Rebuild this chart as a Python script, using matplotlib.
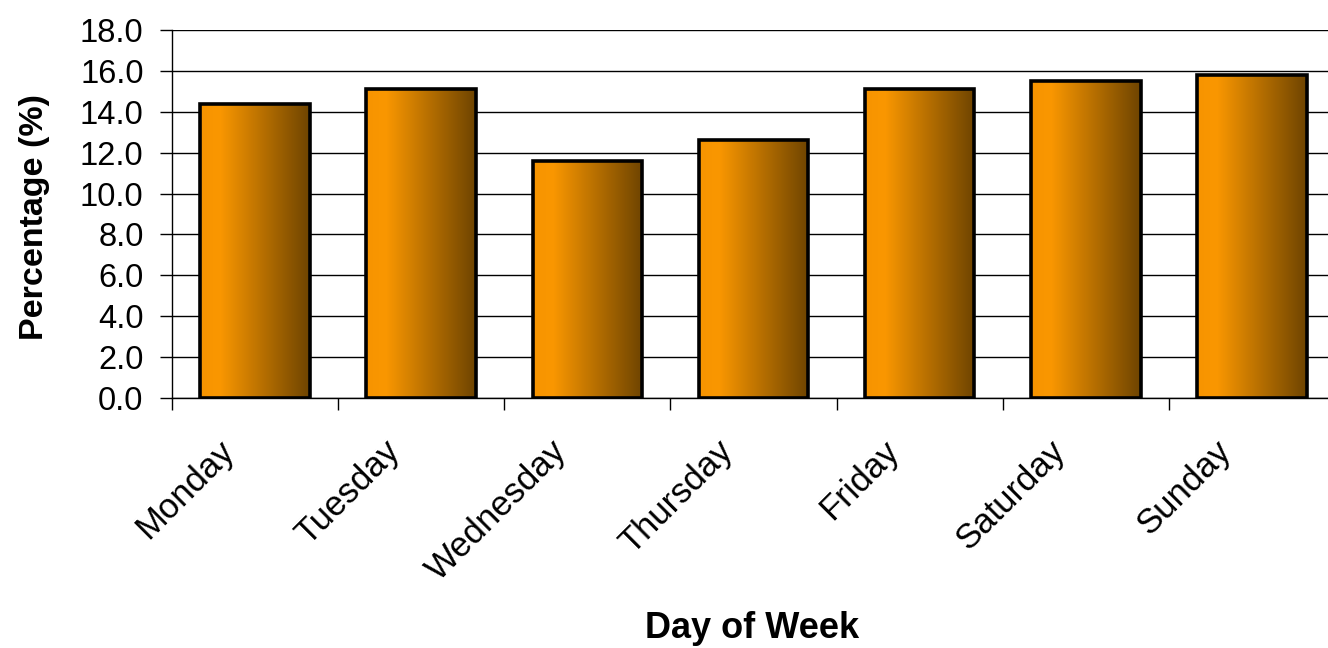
import numpy as np
import matplotlib
matplotlib.use("Agg")
import matplotlib.pyplot as plt
import matplotlib.transforms as mtransforms
from matplotlib.colors import LinearSegmentedColormap

# ------------------------------------------------------------
# DATA
# ------------------------------------------------------------

days = ["Monday", "Tuesday", "Wednesday", "Thursday",
        "Friday", "Saturday", "Sunday"]
percentages = [14.4, 15.1, 11.6, 12.6, 15.1, 15.5, 15.8]
y_ticks = [0, 2, 4, 6, 8, 10, 12, 14, 16, 18]

# ------------------------------------------------------------
# STYLE
# ------------------------------------------------------------

plt.rcParams['font.family'] = ['Liberation Sans', 'DejaVu Sans']

bar_cmap = LinearSegmentedColormap.from_list(
    "orange_brown",
    [(0.0, "#F79400"), (0.18, "#FA9700"), (1.0, "#6E4400")]
)

BAR_WIDTH = 0.66

fig = plt.figure(figsize=(13.28, 6.48), dpi=100)
ax = fig.add_axes([172 / 1328, 250 / 648, 1163 / 1328, 368 / 648])

x = np.arange(len(days))
gradient = np.linspace(0, 1, 256).reshape(1, -1)

# gradient-filled bars with black outline
for xi, val in zip(x, percentages):
    left = xi - BAR_WIDTH / 2
    ax.imshow(gradient, cmap=bar_cmap, aspect='auto',
              extent=(left, left + BAR_WIDTH, 0, val),
              zorder=3, interpolation='bilinear')
    ax.bar(xi, val, width=BAR_WIDTH, facecolor='none',
           edgecolor='black', linewidth=2.6, zorder=4)

ax.set_xlim(-0.5, len(days) - 0.5)
ax.set_ylim(0, 18)

ax.set_yticks(y_ticks)
ax.set_yticklabels([f"{v:.1f}" for v in y_ticks], fontsize=23.5)
ax.yaxis.grid(True, color='black', linewidth=1.0, zorder=0)
ax.set_axisbelow(True)

# category ticks between bars
ax.set_xticks(np.arange(len(days) + 1) - 0.5)
ax.set_xticklabels([])
ax.tick_params(axis='x', length=8.5, width=1, direction='out')
ax.tick_params(axis='y', length=8.5, width=1, direction='out', pad=12)

# rotated day labels, placed under each bar
label_trans = (ax.get_xaxis_transform()
               + mtransforms.ScaledTranslation(-0.26, -0.48, fig.dpi_scale_trans))
for xi, day in zip(x, days):
    ax.text(xi, 0, day, transform=label_trans, rotation=45,
            ha='right', va='center', rotation_mode='anchor',
            fontsize=25, clip_on=False)

for side in ['top', 'right']:
    ax.spines[side].set_visible(False)
ax.spines['left'].set_linewidth(1.0)
ax.spines['bottom'].set_linewidth(1.0)

fig.text(35 / 1328, 1 - 217 / 648, "Percentage (%)", fontsize=24.5,
         fontweight='bold', rotation=90, ha='center', va='center')
fig.text(752 / 1328, 1 - 628 / 648, "Day of Week", fontsize=26,
         fontweight='bold', ha='center', va='center')

fig.savefig("out.png", dpi=100)
